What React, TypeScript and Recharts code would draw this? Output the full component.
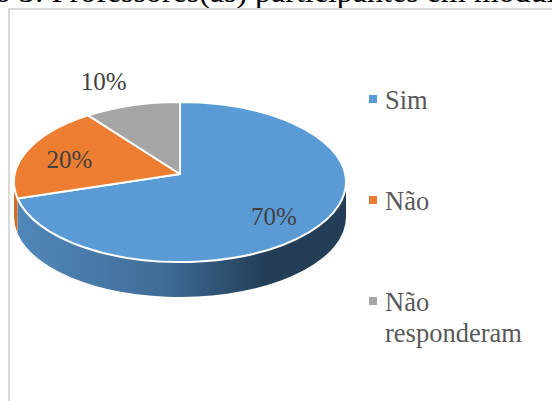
import { PieChart, Pie, Legend } from 'recharts';

const categories = ['Sim', 'Não', 'Não responderam'];
const shares = [70, 20, 10];
const topColors = ['#5b9bd5', '#ed7d31', '#a5a5a5'];

const chartData = categories.map((name, i) => ({ name, value: shares[i], fill: topColors[i] }));

const SERIF = '"Liberation Serif", serif';
const RX = 166;
const RY = 80;
const APEX_DROP = 8; // apex sits above the centre of the ellipse (perspective)
const RAY_Y = 77;
const DEPTH = 35;

// where a pie angle lands on the tilted rim
function rimPoint(cx: number, cy: number, deg: number) {
  const a = (deg * Math.PI) / 180;
  const dx = RX * Math.cos(a);
  const dy = -RAY_Y * Math.sin(a);
  const A = (dx * dx) / (RX * RX) + (dy * dy) / (RY * RY);
  const B = (2 * dy * -APEX_DROP) / (RY * RY);
  const C = (APEX_DROP * APEX_DROP) / (RY * RY) - 1;
  const s = (-B + Math.sqrt(B * B - 4 * A * C)) / (2 * A);
  return { x: cx + dx * s, y: cy + dy * s };
}

function TopSlice(props: any) {
  const { cx, cy, startAngle, endAngle, fill } = props;
  const p0 = rimPoint(cx, cy, startAngle);
  const p1 = rimPoint(cx, cy, endAngle);
  const large = Math.abs(endAngle - startAngle) > 180 ? 1 : 0;
  const d = `M${cx},${cy}L${p0.x},${p0.y}A${RX},${RY} 0 ${large} 1 ${p1.x},${p1.y}Z`;
  return <path d={d} fill={fill} stroke="#fff" strokeWidth={2} strokeLinejoin="round" />;
}

function WallSlice(props: any) {
  const { cx, cy, startAngle, endAngle, index } = props;
  const ey = cy + APEX_DROP;
  const tOf = (deg: number) => {
    const p = rimPoint(cx, cy, deg);
    return Math.atan2((p.y - ey) / RY, (p.x - cx) / RX);
  };
  // sweep only the front half of the rim
  const norm = (t: number) => (t < -Math.PI / 2 ? t + 2 * Math.PI : t);
  const t0 = Math.max(norm(tOf(startAngle)), 0);
  const t1 = Math.min(norm(tOf(endAngle === -270 ? -269.9 : endAngle)), Math.PI);
  if (t1 <= t0) return <g />;
  const ax = cx + RX * Math.cos(t0);
  const ay = ey + RY * Math.sin(t0);
  const bx = cx + RX * Math.cos(t1);
  const by = ey + RY * Math.sin(t1);
  const d = `M${ax},${ay}A${RX},${RY} 0 0 1 ${bx},${by}L${bx},${by + DEPTH}A${RX},${RY} 0 0 0 ${ax},${ay + DEPTH}Z`;
  const gid = `wall-${index}`;
  return (
    <g>
      <defs>
        <linearGradient id={gid} gradientUnits="userSpaceOnUse" x1={14} x2={346} y1={0} y2={0}>
          {index === 0 ? (
            <>
              <stop offset="0" stopColor="#5088bb" />
              <stop offset="0.45" stopColor="#3f6c96" />
              <stop offset="0.68" stopColor="#2a4a68" />
              <stop offset="0.76" stopColor="#233e56" />
              <stop offset="1" stopColor="#233e56" />
            </>
          ) : (
            <stop offset="0" stopColor="#d06f2c" />
          )}
        </linearGradient>
      </defs>
      <path d={d} fill={`url(#${gid})`} />
    </g>
  );
}

// label anchor as a fraction of the way out along the slice's mid ray
const labelReach = [
  [0.7, 0.95],
  [0.7, 0.6],
  [1.49, 1.26],
];

function SliceLabel(props: any) {
  const { cx, cy, midAngle, index, value } = props;
  const a = (midAngle * Math.PI) / 180;
  const [fx, fy] = labelReach[index];
  const x = cx + RX * Math.cos(a) * fx;
  const y = cy - RAY_Y * Math.sin(a) * fy;
  return (
    <text x={x} y={y} textAnchor="middle" dominantBaseline="central" fontFamily={SERIF} fontSize={25} fill="#404040">
      {`${value}%`}
    </text>
  );
}

function LegendList({ payload }: any) {
  const seen = new Set((payload || []).map((entry: any) => entry.value));
  const names = categories.filter((name) => seen.has(name));
  return (
    <div style={{ fontFamily: SERIF, fontSize: 26.5, lineHeight: '31px', color: '#595959' }}>
      {names.map((name, i) => (
        <div key={name} style={{ position: 'absolute', top: i * 101, left: 0, width: 160, paddingLeft: 16 }}>
          <span style={{ position: 'absolute', left: 0, top: 10, width: 8, height: 8, background: topColors[i] }} />
          {name}
        </div>
      ))}
    </div>
  );
}

export default function App() {
  return (
    <div style={{ position: 'absolute', left: 0, top: 0, width: 552, height: 401, overflow: 'hidden', background: '#fff' }}>
      <div style={{ position: 'absolute', left: -87, top: -25, whiteSpace: 'nowrap', fontFamily: SERIF, fontSize: 32, lineHeight: '32px', color: '#000' }}>
        Gráfico 3: Professores(as) participantes em módulo
      </div>
      <div style={{ position: 'absolute', left: 8, top: 8, width: 600, height: 500, border: '2px solid #d9d9d9', boxSizing: 'border-box' }} />
      <div style={{ position: 'absolute', left: 0, top: 0 }}>
        <PieChart width={552} height={401} margin={{ top: 0, right: 0, bottom: 0, left: 0 }}>
          <Pie data={chartData} dataKey="value" nameKey="name" cx={180} cy={174} outerRadius={RX} startAngle={90} endAngle={-270} shape={WallSlice} legendType="none" isAnimationActive={false} />
          <Pie data={chartData} dataKey="value" nameKey="name" cx={180} cy={174} outerRadius={RX} startAngle={90} endAngle={-270} shape={TopSlice} label={SliceLabel} labelLine={false} legendType="square" isAnimationActive={false} />
          <Legend content={LegendList} wrapperStyle={{ position: 'absolute', left: 369, top: 85, width: 175, height: 0 }} />
        </PieChart>
      </div>
    </div>
  );
}
